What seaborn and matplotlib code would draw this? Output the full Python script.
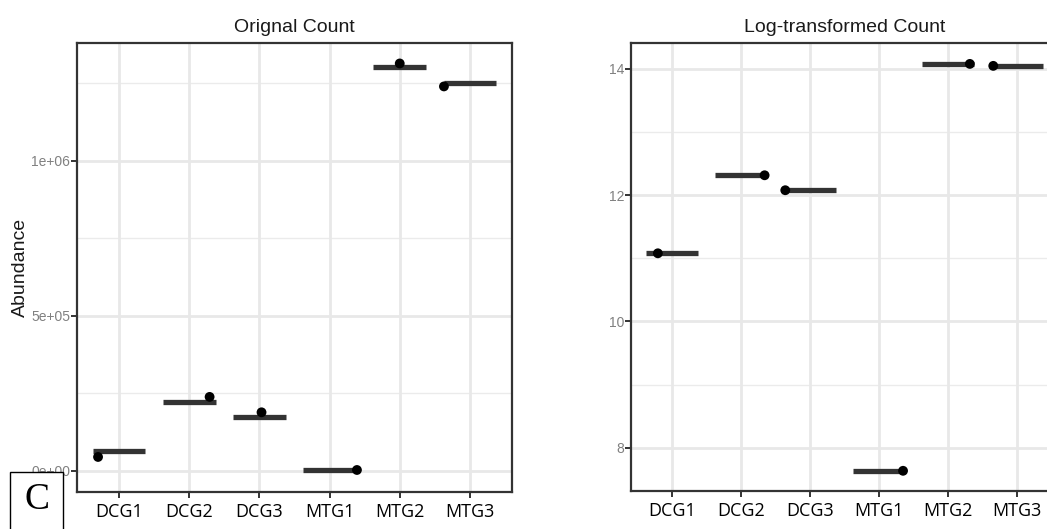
import numpy as np
import pandas as pd
import matplotlib
matplotlib.use("Agg")
import matplotlib.pyplot as plt
from matplotlib.patches import Rectangle
import seaborn as sns

# ---- data ----
categories = ["DCG1", "DCG2", "DCG3", "MTG1", "MTG2", "MTG3"]
orig_bar = [64500, 222600, 174000, 2000, 1303000, 1252600]
orig_dot = [45000, 238700, 189000, 3000, 1314000, 1240000]
orig_jitter = [-0.30, 0.29, 0.03, 0.39, 0.0, -0.37]
log_bar = [11.079, 12.315, 12.078, 7.634, 14.079, 14.048]
log_dot = [11.079, 12.315, 12.078, 7.634, 14.079, 14.048]
log_jitter = [-0.21, 0.34, -0.36, 0.35, 0.32, -0.34]
orig_ticks = [0, 500000, 1000000]
orig_ticklabels = ["0e+00", "5e+05", "1e+06"]
orig_minor = [250000, 750000, 1250000]
log_ticks = [8, 10, 12, 14]
log_minor = [9, 11, 13]

sns.set_theme(style="white")
plt.rcParams["font.family"] = ["Liberation Sans", "DejaVu Sans"]

W, H = 1047, 529
fig = plt.figure(figsize=(W / 100, H / 100), dpi=100)
fig.patch.set_facecolor("white")

def px_axes(x0, x1, y0, y1):
    return fig.add_axes([x0 / W, (H - y1) / H, (x1 - x0) / W, (y1 - y0) / H])

ax1 = px_axes(77, 512, 43, 492)
ax2 = px_axes(631, 1058, 43, 491)

def draw(ax, bars, dots, jitter, ylim, ticks, ticklabels, minor, title):
    n = len(categories)
    idx = np.arange(n)
    df_bar = pd.DataFrame({"cat": categories, "pos": idx, "val": bars})
    df_dot = pd.DataFrame({"cat": categories, "pos": idx + np.array(jitter), "val": dots})
    ax.set_facecolor("white")
    for m in minor:
        ax.axhline(m, color="#ebebeb", lw=1.0, zorder=0)
    for t in ticks:
        ax.axhline(t, color="#e8e8e8", lw=2.0, zorder=0)
    for i in idx:
        ax.axvline(i, color="#e8e8e8", lw=2.0, zorder=0)
    ax.hlines(df_bar["val"], df_bar["pos"] - 0.375, df_bar["pos"] + 0.375,
              color="#333333", lw=3.8, zorder=2, capstyle="butt")
    sns.scatterplot(data=df_dot, x="pos", y="val", ax=ax, color="black",
                    s=50, edgecolor="none", zorder=3, legend=False)
    ax.set_xlim(-0.6, n - 1 + 0.6)
    ax.set_ylim(*ylim)
    ax.set_xticks(idx)
    ax.set_xticklabels(categories, fontsize=13, family=["Open Sans", "DejaVu Sans"],
                       color="black")
    ax.set_yticks(ticks)
    ax.set_yticklabels(ticklabels, fontsize=10, color="#808080")
    ax.tick_params(axis="both", which="major", length=4, width=1.4, color="#333333",
                   direction="out", bottom=True, left=True, pad=1)
    ax.tick_params(axis="x", pad=4)
    for s in ax.spines.values():
        s.set_color("#333333")
        s.set_linewidth(1.6)
        s.set_visible(True)
    ax.set_xlabel("")
    ax.set_ylabel("")
    ax.set_title(title, fontsize=14, color="#1a1a1a", pad=8)

draw(ax1, orig_bar, orig_dot, orig_jitter, (-68000, 1380000), orig_ticks,
     orig_ticklabels, orig_minor, "Orignal Count")
draw(ax2, log_bar, log_dot, log_jitter, (7.314, 14.41), log_ticks,
     [str(t) for t in log_ticks], log_minor, "Log-transformed Count")

ax1.set_ylabel("Abundance", fontsize=14, color="#1a1a1a")
ax1.yaxis.set_label_coords((29 - 77) / 435, 0.5)

# panel letter box
fig.patches.append(Rectangle((10 / W, -0.01), 53 / W, (H - 472) / H + 0.01,
                             transform=fig.transFigure, facecolor="white",
                             edgecolor="black", lw=1.0, zorder=10))
fig.text(37 / W, (H - 500) / H, "C", fontsize=27, family=["Liberation Serif"],
         ha="center", va="center", color="black", zorder=11)

fig.savefig("out.png", dpi=100, facecolor="white")
